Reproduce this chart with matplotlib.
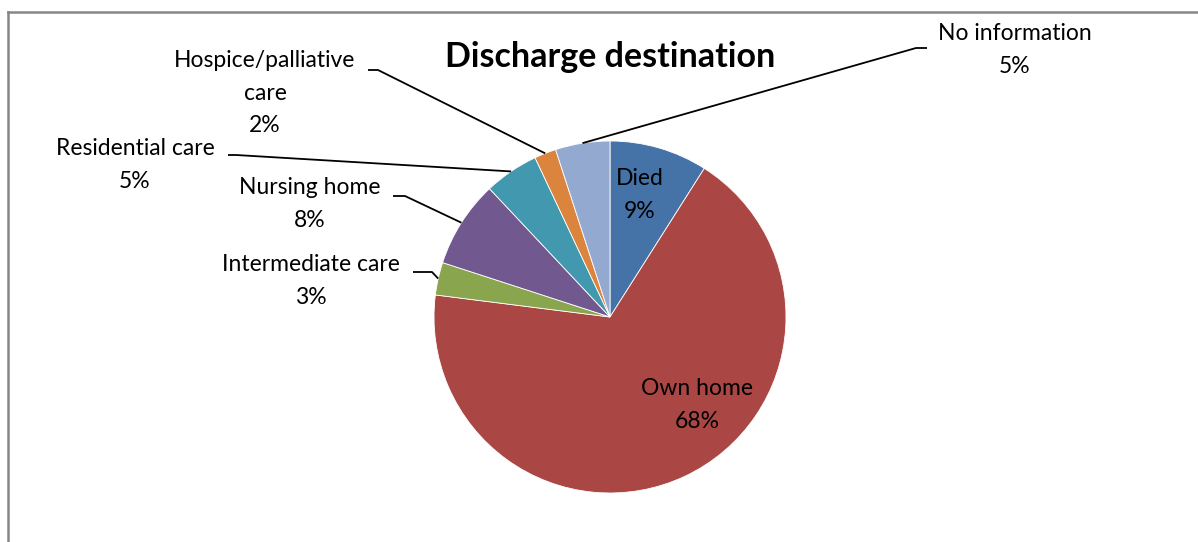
import numpy as np
import matplotlib.pyplot as plt
from matplotlib.lines import Line2D

plt.rcParams['font.family'] = ['Lato', 'DejaVu Sans']

# discharge destination shares (%), clockwise from 12 o'clock
labels = ['Died', 'Own home', 'Intermediate care', 'Nursing home',
          'Residential care', 'Hospice/palliative\ncare', 'No information']
values = [9, 68, 3, 8, 5, 2, 5]
colors = ['#4572A7', '#AA4643', '#89A54E', '#71588F', '#4198AF', '#DB843D', '#93A9CF']

W, H = 1198, 542
fig = plt.figure(figsize=(W / 100, H / 100), dpi=100)
ax = fig.add_axes([0, 0, 1, 1])

cx, cy, r = 610, H - 317, 176
ax.pie(values, colors=colors, startangle=90, counterclock=False,
       center=(cx, cy), radius=r, frame=True,
       wedgeprops=dict(edgecolor='white', linewidth=0.6))
ax.set_xlim(0, W)
ax.set_ylim(0, H)
ax.axis('off')

# mid angle of each wedge, measured clockwise from the top
cum = np.cumsum(values)
mids = (cum - np.array(values) / 2) / sum(values) * 2 * np.pi


def anchor(i, rr=r):
    a = mids[i]
    return cx + rr * np.sin(a), cy + rr * np.cos(a)


fs = 16.5
ls = 1.65
pct = [f'{v}%' for v in values]

# labels inside the pie
for i, (tx, ty) in [(0, (640, 195)), (1, (697, 405))]:
    ax.text(tx, H - ty, f'{labels[i]}\n{pct[i]}', ha='center', va='center',
            fontsize=fs, linespacing=ls)

# outside labels: text centre, elbow start, elbow end
outside = {
    2: ((311, 281), (413, 272), (432, 272)),
    3: ((310, 204), (393, 196), (405, 196)),
    4: ((135, 165), (228, 155), (236, 155)),
    5: ((265, 93), (368, 70), (378, 70)),
    6: ((1015, 50), (927, 48), (916, 48)),
}
for i, (tpos, p0, p1) in outside.items():
    ax.text(tpos[0], H - tpos[1], f'{labels[i]}\n{pct[i]}', ha='center', va='center',
            fontsize=fs, linespacing=ls)
    ex, ey = anchor(i)
    ax.plot([p0[0], p1[0], ex], [H - p0[1], H - p1[1], ey], color='black', lw=1.3,
            solid_capstyle='butt')

ax.text(610, H - 57, 'Discharge destination', ha='center', va='center',
        fontsize=24.5, fontweight='bold')

# chart frame (only top and left edges fall inside the image)
fig.add_artist(Line2D([8 / W, 8 / W], [0, 1 - 12 / H], transform=fig.transFigure,
                      color='#868686', lw=1.8))
fig.add_artist(Line2D([8 / W, 1], [1 - 12 / H, 1 - 12 / H], transform=fig.transFigure,
                      color='#868686', lw=1.8))

fig.savefig('out.png', dpi=100, facecolor='white')
